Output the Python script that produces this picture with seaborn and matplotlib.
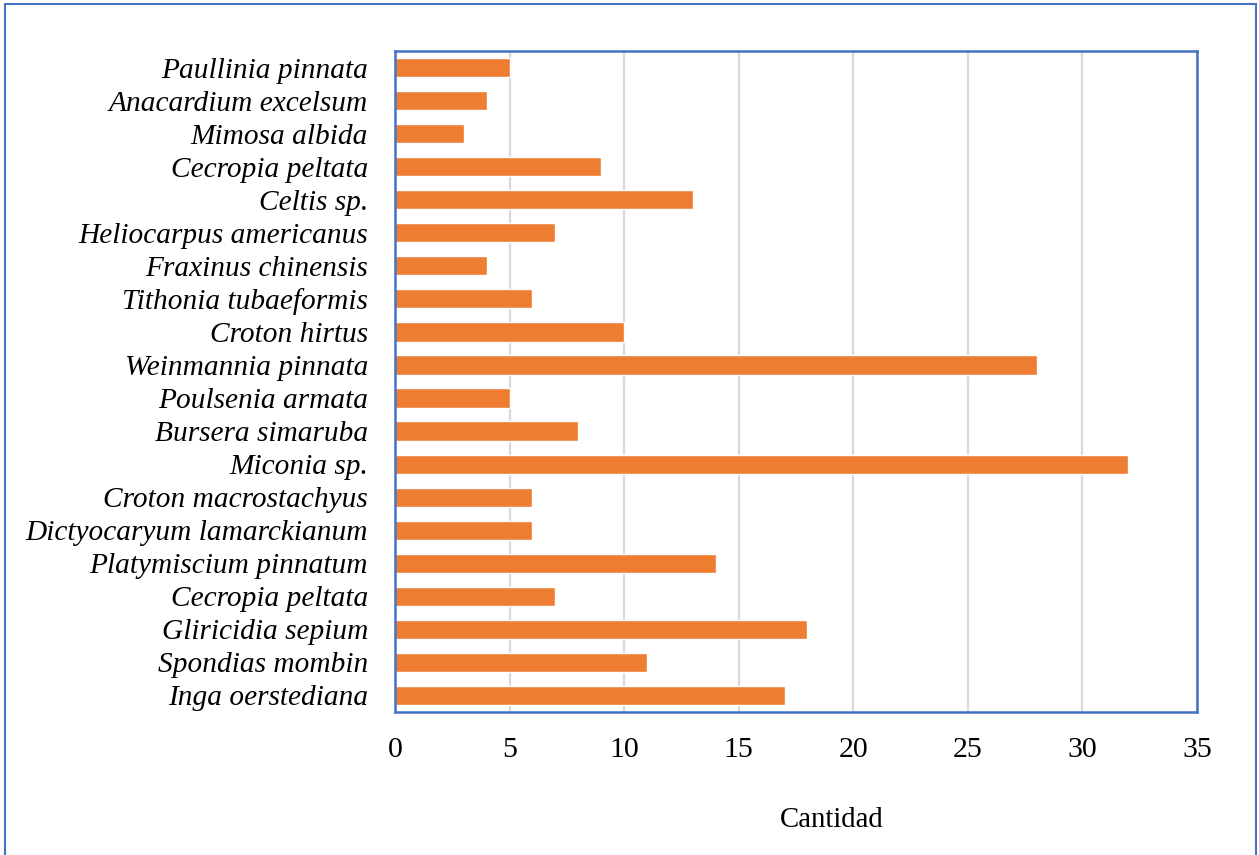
import matplotlib
matplotlib.use("Agg")
import matplotlib.pyplot as plt
import seaborn as sns
import pandas as pd
from matplotlib.patches import Rectangle

species = [
    "Paullinia pinnata", "Anacardium excelsum", "Mimosa albida", "Cecropia peltata",
    "Celtis sp.", "Heliocarpus americanus", "Fraxinus chinensis", "Tithonia tubaeformis",
    "Croton hirtus", "Weinmannia pinnata", "Poulsenia armata", "Bursera simaruba",
    "Miconia sp.", "Croton macrostachyus", "Dictyocaryum lamarckianum",
    "Platymiscium pinnatum", "Cecropia peltata", "Gliricidia sepium",
    "Spondias mombin", "Inga oerstediana",
]
cantidad = [5, 4, 3, 9, 13, 7, 4, 6, 10, 28, 5, 8, 32, 6, 6, 14, 7, 18, 11, 17]
x_ticks = [0, 5, 10, 15, 20, 25, 30, 35]

sns.set_theme(style="white")
plt.rcParams["font.family"] = ["Liberation Serif", "DejaVu Serif"]
plt.rcParams["text.color"] = "black"

df = pd.DataFrame({"pos": list(range(len(species))), "especie": species, "cantidad": cantidad})

fig = plt.figure(figsize=(12.59, 8.55), dpi=100)
W, H = 1259, 855
ax = fig.add_axes([395 / W, 1 - 712 / H, (1197 - 395) / W, (712 - 51) / H])

sns.barplot(data=df, x="cantidad", y="pos", orient="h", color="#ED7D31",
            saturation=1, width=0.58, ax=ax)

ax.set_xlim(0, 35)
ax.set_ylim(len(species) - 0.5, -0.5)
ax.set_xticks(x_ticks)
ax.set_xticklabels([str(t) for t in x_ticks], fontsize=21.5)
ax.set_yticks(df["pos"])
ax.set_yticklabels(df["especie"], fontsize=21.2, style="italic")
ax.tick_params(axis="x", pad=18, length=0, colors="black")
ax.tick_params(axis="y", pad=19.5, length=0, colors="black")
ax.set_ylabel("")
ax.set_xlabel("")
ax.xaxis.grid(True, color="#D9D9D9", linewidth=1.6)
ax.set_axisbelow(True)
for s in ax.spines.values():
    s.set_visible(True)
    s.set_color("#4472C4")
    s.set_linewidth(1.8)

fig.text(832 / W, 1 - 820 / H, "Cantidad", fontsize=20.8, ha="center", va="center",
         color="black")

# outer frame around the chart area
fig.patches.append(Rectangle((5 / W, -0.05), (1256 - 5) / W, 1.05 - 4 / H,
                             transform=fig.transFigure, fill=False,
                             edgecolor="#4472C4", linewidth=1.5))

fig.savefig("out.png", dpi=100)
